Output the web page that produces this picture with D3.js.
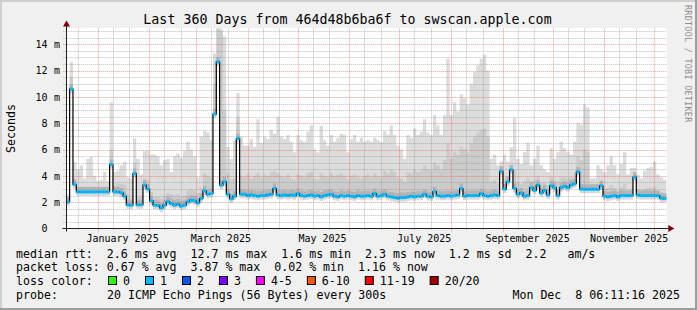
<!DOCTYPE html>
<html>
<head>
<meta charset="utf-8">
<script src="https://cdn.jsdelivr.net/npm/d3@7"></script>
<style>
html, body { margin: 0; padding: 0; background: #f0f0f0; }
svg { display: block; }
text { font-family: "DejaVu Sans Mono", monospace; fill: #000; }
</style>
</head>
<body>
<svg id="chart" width="697" height="310"></svg>
<script>
// ---- data (one value per 2-day bin) ----
var endTime = new Date(Date.UTC(2025, 11, 8, 6, 11, 16));
var spanDays = 360;
var binDays = 2;

// median rtt in ms
var medianMs = [
  2.02, 10.6, 3.34, 2.78, 2.78, 2.78, 2.78, 2.78, 2.78, 2.78,
  2.78, 2.78, 2.78, 4.86, 2.78, 2.78, 2.7, 2.45, 1.8, 1.77,
  4.18, 1.8, 1.8, 3.29, 3.0, 2.1, 1.77, 1.75, 1.57, 1.77,
  2.03, 1.9, 1.77, 1.85, 1.7, 1.77, 2.03, 2.15, 2.1, 1.95,
  2.28, 2.86, 2.6, 2.66, 8.7, 12.66, 3.29, 3.55, 2.6, 2.25,
  2.45, 6.84, 2.6, 2.6, 2.5, 2.55, 2.5, 2.45, 2.5, 2.5,
  2.55, 2.6, 3.04, 2.55, 2.5, 2.55, 2.5, 2.55, 2.5, 2.65,
  2.5, 2.45, 2.5, 2.55, 2.45, 2.5, 2.4, 2.5, 2.55, 2.6,
  2.45, 2.4, 2.5, 2.45, 2.5, 2.45, 2.4, 2.5, 2.45, 2.45,
  2.5, 2.45, 2.65, 2.45, 2.5, 2.6, 2.45, 2.4, 2.35, 2.3,
  2.35, 2.35, 2.4, 2.45, 2.4, 2.45, 2.45, 2.6, 2.45, 2.4,
  2.8, 2.5, 2.45, 2.45, 2.5, 2.45, 2.5, 2.55, 3.04, 2.45,
  2.5, 2.5, 2.5, 2.5, 2.65, 2.5, 2.45, 2.5, 2.55, 2.5,
  4.35, 3.0, 3.55, 4.46, 3.04, 2.6, 2.7, 2.45, 2.5, 3.1,
  2.9, 3.29, 2.7, 2.9, 2.55, 3.25, 3.1, 2.5, 3.1, 3.2,
  3.1, 3.3, 3.4, 4.3, 3.0, 2.98, 2.98, 2.98, 2.98, 2.98,
  3.25, 2.45, 2.4, 2.45, 2.5, 2.4, 2.5, 2.5, 2.5, 2.5,
  3.9, 2.55, 2.5, 2.5, 2.5, 2.5, 2.5, 2.5, 2.3, 2.28
];

// top of the smoke (slowest pings) in ms
var smokeMaxMs = [
  2.6, 12.66, 5.07, 4.5, 4.8, 3.8, 5.3, 5.45, 4.0, 3.6,
  3.7, 4.3, 3.6, 9.6, 4.3, 4.4, 4.8, 5.1, 3.9, 3.8,
  6.85, 5.3, 4.1, 5.9, 5.9, 5.6, 5.6, 5.5, 4.8, 5.2,
  5.3, 4.3, 5.5, 5.7, 5.4, 5.9, 6.6, 6.0, 5.5, 3.9,
  7.0, 7.4, 7.3, 6.7, 13.3, 15.2, 15.2, 14.6, 6.2, 5.3,
  6.7, 10.3, 7.0, 6.3, 6.3, 6.8, 6.2, 8.3, 6.5, 7.0,
  6.8, 7.5, 7.2, 8.5, 7.0, 6.8, 7.1, 6.6, 5.8, 7.1,
  6.7, 6.6, 7.35, 7.85, 6.0, 5.8, 7.8, 6.7, 6.3, 7.1,
  6.6, 6.9, 7.2, 7.1, 5.8, 6.8, 7.1, 6.6, 6.9, 6.6,
  6.7, 6.6, 6.9, 6.7, 6.6, 7.4, 7.1, 7.85, 7.1, 6.3,
  6.0, 5.3, 7.1, 6.9, 7.6, 7.1, 7.35, 8.3, 7.3, 7.1,
  8.6, 7.85, 7.1, 8.6, 12.9, 8.6, 9.6, 8.9, 10.2, 9.9,
  9.4, 11.0, 11.9, 12.4, 12.9, 13.2, 12.0, 5.3, 5.6, 4.8,
  5.1, 5.6, 5.1, 6.2, 8.4, 5.3, 4.9, 5.8, 6.5, 4.8,
  5.3, 6.3, 4.8, 4.5, 4.3, 6.1, 5.3, 5.8, 6.6, 6.1,
  5.8, 5.6, 6.6, 8.0, 7.9, 9.4, 9.2, 3.8, 3.8, 4.8,
  4.5, 4.3, 4.8, 5.5, 4.8, 4.1, 4.9, 5.8, 4.1, 4.6,
  4.6, 4.1, 3.8, 4.4, 4.6, 4.7, 5.1, 4.1, 3.9, 3.7
];

// top of the denser middle part of the smoke in ms
var smokeMidMs = [
  2.3, 11.5, 3.7, 3.0, 3.1, 3.0, 3.1, 3.1, 3.0, 3.0,
  3.0, 3.1, 3.0, 6.0, 3.3, 3.4, 3.4, 3.3, 2.6, 2.3,
  5.0, 2.4, 2.5, 3.8, 3.7, 2.8, 2.4, 2.4, 2.3, 2.5,
  2.7, 2.6, 2.5, 2.6, 2.4, 2.5, 2.9, 3.0, 2.9, 2.7,
  3.1, 4.2, 4.0, 3.9, 11.0, 15.2, 15.0, 9.0, 4.2, 3.7,
  3.8, 8.5, 4.0, 3.9, 4.1, 3.8, 4.0, 4.2, 3.9, 4.1,
  4.0, 4.3, 4.4, 4.2, 4.0, 3.9, 4.1, 3.8, 3.7, 4.1,
  4.0, 3.9, 4.2, 4.3, 3.8, 3.7, 4.2, 4.0, 3.9, 4.2,
  4.0, 4.1, 4.2, 4.0, 3.7, 4.0, 4.1, 3.9, 3.8, 4.0,
  4.1, 3.9, 4.2, 4.0, 3.9, 4.4, 4.2, 4.5, 4.3, 3.9,
  3.8, 3.6, 4.3, 4.2, 4.5, 4.3, 4.4, 4.8, 4.5, 4.4,
  5.0, 4.8, 4.5, 5.2, 6.5, 5.3, 5.8, 5.6, 6.2, 6.0,
  5.8, 6.5, 7.0, 7.3, 7.5, 7.6, 7.0, 3.6, 3.7, 3.4,
  4.6, 3.8, 4.0, 4.8, 4.5, 3.5, 3.4, 3.6, 3.8, 3.6,
  3.7, 4.0, 3.5, 3.5, 3.3, 3.9, 3.7, 3.6, 3.9, 3.9,
  3.8, 3.9, 4.2, 5.5, 5.2, 6.0, 5.8, 3.2, 3.2, 3.4,
  3.5, 3.0, 3.1, 3.3, 3.1, 2.9, 3.1, 3.4, 2.9, 3.0,
  4.1, 3.0, 2.9, 3.0, 3.1, 3.1, 3.2, 2.9, 2.8, 2.7
];

// pings lost (of 20) for the median colour
var medianLoss = 1;

// y axis
var yTicks = [0, 2, 4, 6, 8, 10, 12, 14];
var yUnit = "m";

// legend
var lossLabels = ["0", "1", "2", "3", "4-5", "6-10", "11-19", "20/20"];
var lossColors = ["#26ff00", "#00b8ff", "#0059ff", "#7e00ff", "#ff00ff", "#ff5500", "#ff0000", "#a00000"];
var lossFrom   = [0, 1, 2, 3, 4, 6, 11, 20];

var titleText = "Last 360 Days from 464d48b6ba6f to swscan.apple.com";
var statLines = [
  "median rtt:  2.6 ms avg  12.7 ms max  1.6 ms min  2.3 ms now  1.2 ms sd  2.2   am/s",
  "packet loss: 0.67 % avg  3.87 % max  0.02 % min  1.16 % now"
];
var probeText = "20 ICMP Echo Pings (56 Bytes) every 300s";
var stampText = "Mon Dec  8 06:11:16 2025";

// ---- layout ----
var W = 697, H = 310;
var plot = {left: 66.3, right: 666.3, top: 28.5, bottom: 228.5};
var legendFont = 11.6, charW = 6.98;

var svg = d3.select("#chart");

// background + 3d frame
svg.append("rect").attr("width", W).attr("height", H).attr("fill", "#f0f0f0");
svg.append("path").attr("d", "M0,0H" + W + "V2H2V" + H + "H0Z").attr("fill", "#cfcfcf");
svg.append("path").attr("d", "M" + W + ",0V" + H + "H0V" + (H - 2) + "H" + (W - 2) + "V0Z").attr("fill", "#9e9e9e");

var startTime = d3.utcDay.offset(endTime, -spanDays);
var x = d3.scaleUtc().domain([startTime, endTime]).range([plot.left, plot.right]);
var y = d3.scaleLinear().domain([0, 15.2]).range([plot.bottom, plot.top]);

// canvas
svg.append("rect")
  .attr("x", Math.floor(plot.left)).attr("y", Math.floor(plot.top))
  .attr("width", Math.ceil(plot.right - plot.left) + 1).attr("height", plot.bottom - plot.top)
  .attr("fill", "#fff");

var bins = medianMs.map(function(m, i) {
  var t = d3.utcDay.offset(startTime, i * binDays);
  return {t: t, t1: d3.utcDay.offset(t, binDays), med: m, max: smokeMaxMs[i], mid: smokeMidMs[i]};
});
// closing point so the last step reaches the right edge
var stepPts = bins.concat([Object.assign({}, bins[bins.length - 1], {t: endTime})]);

var g = svg.append("g");

// smoke
g.append("path").datum(stepPts)
  .attr("fill", "#dcdcdc")
  .attr("d", d3.area().curve(d3.curveStepAfter)
    .x(function(d) { return x(d.t); })
    .y0(function(d) { return y(d.med); })
    .y1(function(d) { return y(d.max); }));
g.append("path").datum(stepPts)
  .attr("fill", "#cbcbcb")
  .attr("d", d3.area().curve(d3.curveStepAfter)
    .x(function(d) { return x(d.t); })
    .y0(function(d) { return y(d.med); })
    .y1(function(d) { return y(d.mid); }));

// dense smoke right above / below the median, per bin
g.selectAll("rect.under").data(bins).enter().append("rect")
  .attr("class", "under")
  .attr("x", function(d) { return x(d.t); })
  .attr("width", function(d) { return x(d.t1) - x(d.t); })
  .attr("y", function(d) { return y(d.med); })
  .attr("height", 4)
  .attr("fill", "#d8d8d8");
g.selectAll("rect.over").data(bins).enter().append("rect")
  .attr("class", "over")
  .attr("x", function(d) { return x(d.t); })
  .attr("width", function(d) { return x(d.t1) - x(d.t); })
  .attr("y", function(d) { return y(d.med) - 5; })
  .attr("height", 5)
  .attr("fill", "#b2b2b2");

// grid
var grid = svg.append("g");
var px = function(v) { return Math.round(v) + 0.5; };
d3.range(0.5, 15.01, 0.5).forEach(function(v) {
  var major = v % 2 === 0;
  grid.append("line")
    .attr("x1", plot.left - 3).attr("x2", plot.right + 1)
    .attr("y1", px(y(v))).attr("y2", px(y(v)))
    .attr("stroke", major ? "rgba(240,80,80,0.6)" : "rgba(140,140,140,0.55)")
    .attr("stroke-dasharray", "1,1");
});
var months = d3.utcMonth.range(d3.utcMonth.floor(startTime), endTime);
var minorDays = [];
months.forEach(function(m) {
  [9, 19].forEach(function(k) {
    var d = d3.utcDay.offset(m, k);
    if (d > startTime && d < endTime) minorDays.push(d);
  });
});
minorDays.forEach(function(d) {
  grid.append("line")
    .attr("x1", px(x(d))).attr("x2", px(x(d)))
    .attr("y1", plot.top).attr("y2", plot.bottom + 2)
    .attr("stroke", "rgba(140,140,140,0.55)").attr("stroke-dasharray", "1,1");
});
months.filter(function(m) { return m > startTime; }).forEach(function(m) {
  grid.append("line")
    .attr("x1", px(x(m))).attr("x2", px(x(m)))
    .attr("y1", plot.top).attr("y2", plot.bottom + 3)
    .attr("stroke", "rgba(240,80,80,0.6)").attr("stroke-dasharray", "1,1");
});

// median: thin black step line with loss coloured bars
var medLine = d3.line().curve(d3.curveStepAfter)
  .x(function(d) { return x(d.t); })
  .y(function(d) { return y(d.med); });
var medColor = lossColors[d3.bisectRight(lossFrom, medianLoss) - 1];
g = svg.append("g");
g.append("path").datum(stepPts).attr("d", medLine)
  .attr("fill", "none").attr("stroke", "#000").attr("stroke-width", 1.2);
g.selectAll("line.med").data(bins).enter().append("line")
  .attr("class", "med")
  .attr("x1", function(d) { return x(d.t); })
  .attr("x2", function(d) { return x(d.t1); })
  .attr("y1", function(d) { return y(d.med); })
  .attr("y2", function(d) { return y(d.med); })
  .attr("stroke", medColor).attr("stroke-width", 3);

// axes
var axisG = svg.append("g");
axisG.append("line")
  .attr("x1", plot.left - 4).attr("x2", plot.right + 3)
  .attr("y1", plot.bottom).attr("y2", plot.bottom)
  .attr("stroke", "#202020").attr("stroke-width", 1);
axisG.append("line")
  .attr("x1", px(plot.left)).attr("x2", px(plot.left))
  .attr("y1", plot.bottom + 3).attr("y2", plot.top - 3)
  .attr("stroke", "#202020").attr("stroke-width", 1);
axisG.append("path")
  .attr("d", "M" + (plot.right + 2) + "," + (plot.bottom - 3.5) + "l6,3.5l-6,3.5Z")
  .attr("fill", "#800000");
axisG.append("path")
  .attr("d", "M" + (px(plot.left) - 3.5) + "," + (plot.top - 2) + "l3.5,-6l3.5,6Z")
  .attr("fill", "#800000");

// y tick labels
yTicks.forEach(function(v) {
  axisG.append("text").attr("x", 47.5).attr("y", y(v) + 3.8)
    .attr("text-anchor", "end").style("font-size", "10px").text(v);
  if (v !== 0) {
    axisG.append("text").attr("x", 54).attr("y", y(v) + 3.8)
      .style("font-size", "10px").text(yUnit);
  }
});

// x labels, every second month, centred half a month in
var fmt = d3.utcFormat("%B %Y");
months.filter(function(m) { return m > startTime && m.getUTCMonth() % 2 === 0; })
  .forEach(function(m) {
    axisG.append("text")
      .attr("x", x(d3.utcDay.offset(m, 15))).attr("y", 241.5)
      .attr("text-anchor", "middle").style("font-size", "10px")
      .text(fmt(m));
  });

// title and axis title
svg.append("text").attr("x", 347.5).attr("y", 23.5).attr("text-anchor", "middle")
  .style("font-size", "13.3px").text(titleText);
svg.append("text").attr("transform", "translate(15," + ((plot.top + plot.bottom) / 2) + ") rotate(-90)")
  .attr("text-anchor", "middle").style("font-size", legendFont + "px").text("Seconds");

// watermark
svg.append("text").attr("transform", "translate(684.5,5) rotate(90)")
  .style("font-size", "8.4px").style("fill", "#8e8e8e").style("letter-spacing", "0.3px")
  .text("RRDTOOL / TOBI OETIKER");

// legend
var legend = svg.append("g").style("font-size", legendFont + "px");
var rowY = [257.8, 271.4, 285, 298.6];
statLines.forEach(function(s, i) {
  legend.append("text").attr("x", 16).attr("y", rowY[i])
    .attr("xml:space", "preserve").style("white-space", "pre").text(s);
});
legend.append("text").attr("x", 16).attr("y", rowY[2]).text("loss color:");
var bx = 108;
lossLabels.forEach(function(lab, i) {
  legend.append("rect").attr("x", bx + 0.5).attr("y", rowY[2] - 8.5)
    .attr("width", 8).attr("height", 8)
    .attr("fill", lossColors[i]).attr("stroke", "#000").attr("stroke-width", 1);
  legend.append("text").attr("x", bx + 15).attr("y", rowY[2]).text(lab);
  bx = bx + 15 + lab.length * charW + 15;
});
legend.append("text").attr("x", 16).attr("y", rowY[3]).text("probe:");
legend.append("text").attr("x", 107).attr("y", rowY[3]).text(probeText);
legend.append("text").attr("x", 680).attr("y", rowY[3]).attr("text-anchor", "end")
  .attr("xml:space", "preserve").style("white-space", "pre").text(stampText);
</script>
</body>
</html>
